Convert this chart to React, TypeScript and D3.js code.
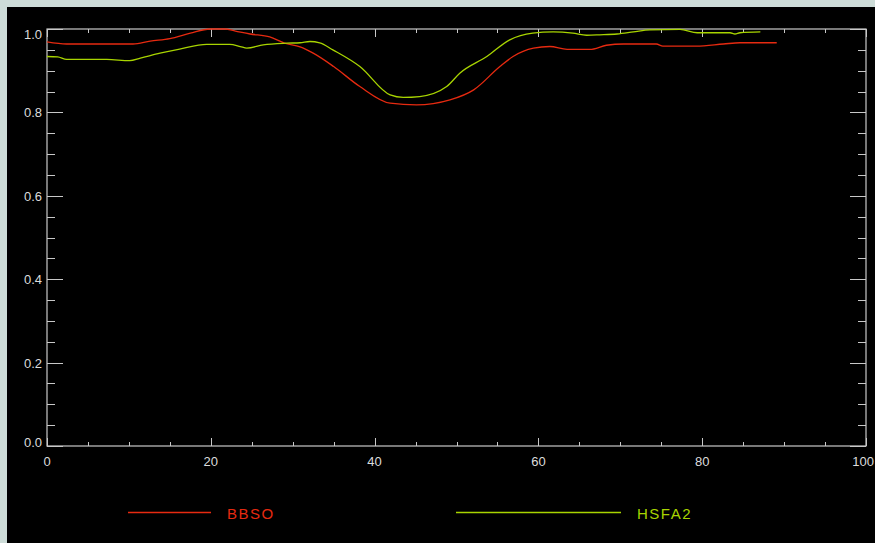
import React, { useEffect, useRef } from "react";
import * as d3 from "d3";

// values
const bbsoX = [0, 2.4, 10.5, 12.6, 15, 17.5, 19.9, 21.7, 23, 24.8, 27.2, 29, 30.9, 32.5, 35, 38.2, 41.9, 45.1, 49.2, 52.1, 55.3, 56.9, 59.4, 61.4, 63.5, 66.3, 68.3, 70.4, 74.4, 75.2, 79.3, 82.6, 84.6, 89.1];
const bbsoY = [0.969, 0.964, 0.964, 0.971, 0.977, 0.99, 1.0, 1.0, 0.995, 0.988, 0.981, 0.966, 0.957, 0.942, 0.91, 0.862, 0.822, 0.818, 0.83, 0.854, 0.91, 0.934, 0.954, 0.958, 0.951, 0.951, 0.961, 0.964, 0.964, 0.959, 0.959, 0.964, 0.967, 0.967];

const hsfaX = [0, 1.3, 2.4, 7.3, 10.1, 11.4, 13.8, 16.2, 19.5, 22.3, 23.6, 24.4, 26.4, 29.3, 30.9, 32.1, 33.3, 34.9, 38.2, 41.9, 43.5, 45.5, 48.8, 50.4, 53.7, 56.5, 59.3, 61.8, 64.2, 65.9, 67.5, 69.6, 71.6, 73.6, 77.3, 79.4, 83.4, 84, 84.6, 87.1];
const hsfaY = [0.934, 0.933, 0.927, 0.927, 0.924, 0.93, 0.942, 0.952, 0.963, 0.963, 0.958, 0.954, 0.962, 0.966, 0.967, 0.97, 0.967, 0.95, 0.91, 0.842, 0.836, 0.838, 0.862, 0.894, 0.934, 0.974, 0.99, 0.993, 0.99, 0.985, 0.986, 0.988, 0.993, 0.998, 0.999, 0.991, 0.991, 0.988, 0.991, 0.993];

const seriesNames = ["BBSO", "HSFA2"];
const seriesColors = ["#e62a10", "#a8d400"];

const xTicks = [0, 20, 40, 60, 80, 100];
const yTicks = [0.0, 0.2, 0.4, 0.6, 0.8, 1.0];

function App() {
  const ref = useRef<SVGSVGElement>(null);

  useEffect(() => {
    const svg = d3.select(ref.current);
    svg.selectAll("*").remove();

    const W = 875, H = 543;
    const left = 47, right = 866, top = 29, bottom = 446;
    const axisColor = "#c8c8c8";
    const font = "'Liberation Sans', Arial, sans-serif";

    svg.append("rect").attr("width", W).attr("height", H).attr("fill", "#cddcd8");
    svg.append("rect").attr("x", 7).attr("y", 7).attr("width", W - 7).attr("height", H - 7).attr("fill", "#000");

    const x = d3.scaleLinear().domain([0, 100]).range([left, right]);
    const y = d3.scaleLinear().domain([0, 1]).range([bottom, top]);

    const g = svg.append("g");

    // frame
    g.append("rect")
      .attr("x", left).attr("y", top)
      .attr("width", right - left).attr("height", bottom - top)
      .attr("fill", "none").attr("stroke", axisColor).attr("stroke-width", 1.2);

    // x ticks (bottom + top, inward)
    d3.range(0, 101, 5).forEach(v => {
      const len = v % 20 === 0 ? 8 : 4;
      const px = Math.round(x(v)) + 0.5;
      g.append("line").attr("x1", px).attr("x2", px).attr("y1", bottom).attr("y2", bottom - len).attr("stroke", axisColor);
      g.append("line").attr("x1", px).attr("x2", px).attr("y1", top).attr("y2", top + len).attr("stroke", axisColor);
    });
    // y ticks (left + right)
    d3.range(0, 21).map(i => i * 0.05).forEach((v, i) => {
      const len = i % 4 === 0 ? 16 : 8;
      const py = Math.round(y(v)) + 0.5;
      g.append("line").attr("x1", left).attr("x2", left + len).attr("y1", py).attr("y2", py).attr("stroke", axisColor);
      g.append("line").attr("x1", right).attr("x2", right - len).attr("y1", py).attr("y2", py).attr("stroke", axisColor);
    });

    // last label would run off the page edge, so pin it to the edge
    g.selectAll(".xl").data(xTicks).enter().append("text")
      .attr("x", d => d === 100 ? W - 1 : x(d)).attr("y", 466)
      .attr("text-anchor", d => d === 100 ? "end" : "middle")
      .attr("fill", "#dcdcdc").attr("font-family", font).attr("font-size", 13)
      .text(d => String(d));

    // end labels sit inside the axis range, like the original
    g.selectAll(".yl").data(yTicks).enter().append("text")
      .attr("x", 42)
      .attr("y", d => d === 1 ? y(d) + 10 : d === 0 ? y(d) + 1 : y(d) + 5)
      .attr("text-anchor", "end")
      .attr("fill", "#dcdcdc").attr("font-family", font).attr("font-size", 13)
      .text(d => d.toFixed(1));

    const line = d3.line<[number, number]>()
      .x(d => x(d[0])).y(d => y(d[1]))
      .curve(d3.curveMonotoneX);

    const series: [number, number][][] = [
      bbsoX.map((v, i) => [v, bbsoY[i]]),
      hsfaX.map((v, i) => [v, hsfaY[i]]),
    ];

    series.forEach((s, i) => {
      g.append("path").attr("d", line(s) || "")
        .attr("fill", "none").attr("stroke", seriesColors[i]).attr("stroke-width", 1.3);
    });

    // legend
    const legendLines = [[128, 211], [456, 621]];
    legendLines.forEach(([x1, x2], i) => {
      g.append("line").attr("x1", x1).attr("x2", x2).attr("y1", 512.5).attr("y2", 512.5)
        .attr("stroke", seriesColors[i]).attr("stroke-width", 1.3);
      g.append("text").attr("x", x2 + 16).attr("y", 518.5)
        .attr("fill", seriesColors[i]).attr("font-family", font).attr("font-size", 15)
        .attr("letter-spacing", 1.5)
        .text(seriesNames[i]);
    });
  }, []);

  return <svg ref={ref} width={875} height={543} style={{ position: "absolute", left: 0, top: 0 }} />;
}

export default App;
